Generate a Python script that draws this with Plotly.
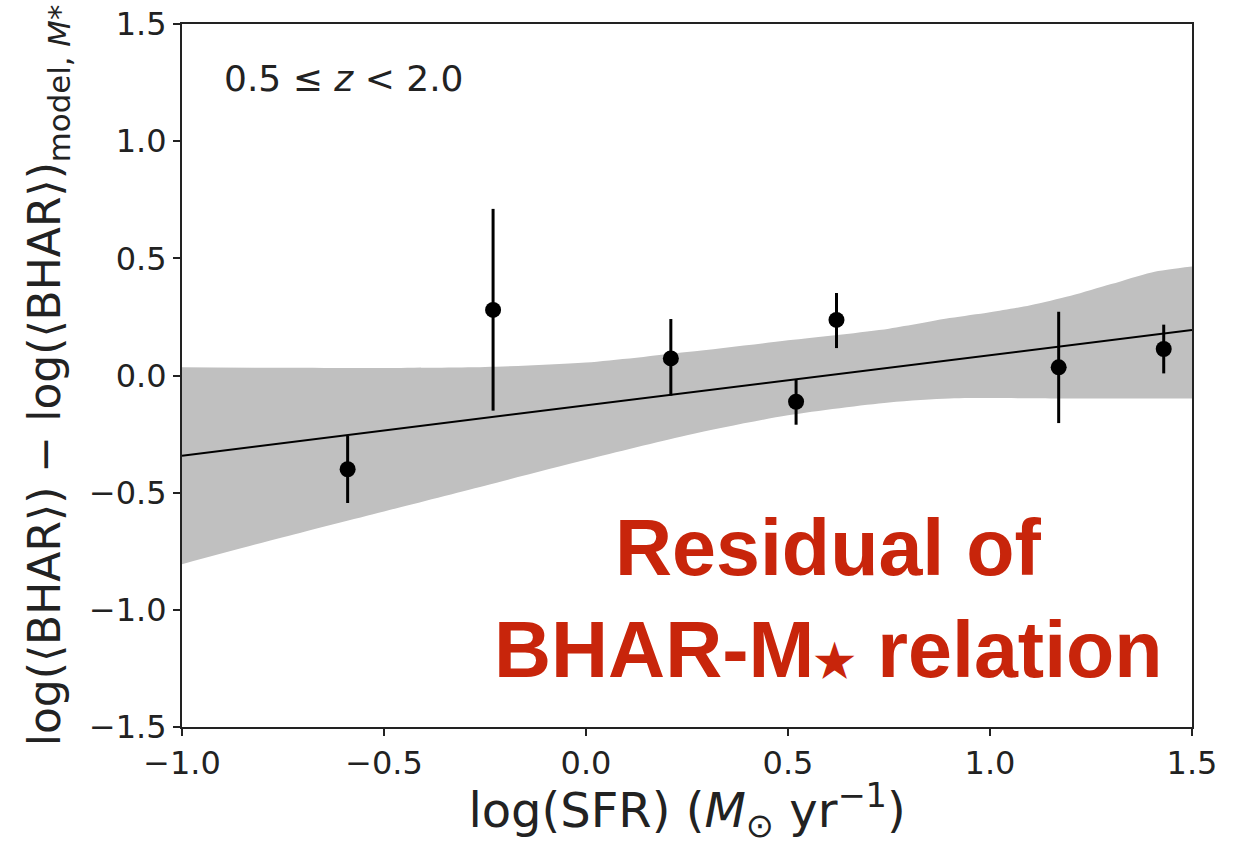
import plotly.graph_objects as go

# ---- data ----
pts_x = [-0.59, -0.23, 0.21, 0.52, 0.62, 1.17, 1.43]
pts_y = [-0.40, 0.28, 0.073, -0.112, 0.237, 0.035, 0.113]
err_plus = [0.142, 0.431, 0.168, 0.097, 0.115, 0.237, 0.104]
err_minus = [0.144, 0.430, 0.159, 0.098, 0.120, 0.238, 0.104]

fit_x = [-1.0, 1.5]
fit_y = [-0.342, 0.194]

band_x = [-1.0, -0.75, -0.5, -0.25, 0.0, 0.25, 0.5, 0.75, 0.9, 1.0, 1.1, 1.2, 1.3, 1.4, 1.5]
band_upper = [0.035, 0.033, 0.032, 0.036, 0.055, 0.10, 0.15, 0.20, 0.245, 0.27, 0.30, 0.34, 0.39, 0.44, 0.465]
band_lower = [-0.805, -0.69, -0.58, -0.47, -0.36, -0.255, -0.17, -0.115, -0.098, -0.096, -0.097, -0.098, -0.098, -0.098, -0.098]

x_ticks = [-1.0, -0.5, 0.0, 0.5, 1.0, 1.5]
x_ticklabels = ["\u22121.0", "\u22120.5", "0.0", "0.5", "1.0", "1.5"]
y_ticks = [-1.5, -1.0, -0.5, 0.0, 0.5, 1.0, 1.5]
y_ticklabels = ["\u22121.5", "\u22121.0", "\u22120.5", "0.0", "0.5", "1.0", "1.5"]

FONT = "DejaVu Sans"
INK = "#222222"

fig = go.Figure()

fig.add_trace(go.Scatter(x=band_x, y=band_upper, mode="lines",
                         line=dict(width=0, color="#c0c0c0", shape="spline", smoothing=0.8),
                         hoverinfo="skip", showlegend=False))
fig.add_trace(go.Scatter(x=band_x, y=band_lower, mode="lines",
                         line=dict(width=0, color="#c0c0c0", shape="spline", smoothing=0.8),
                         fill="tonexty", fillcolor="#c0c0c0",
                         hoverinfo="skip", showlegend=False))

fig.add_trace(go.Scatter(x=fit_x, y=fit_y, mode="lines",
                         line=dict(width=2, color="black"),
                         hoverinfo="skip", showlegend=False))

fig.add_trace(go.Scatter(x=pts_x, y=pts_y, mode="markers",
                         marker=dict(size=16, color="black"),
                         error_y=dict(type="data", symmetric=False,
                                      array=err_plus, arrayminus=err_minus,
                                      color="black", thickness=3, width=0),
                         showlegend=False))

axis_common = dict(showline=True, linecolor=INK, linewidth=2, mirror=True,
                   ticks="outside", ticklen=7, tickwidth=1.5, tickcolor=INK,
                   showgrid=False, zeroline=False, automargin=False,
                   tickfont=dict(family=FONT, size=32, color=INK))

fig.update_xaxes(range=[-1.0, 1.5], tickvals=x_ticks, ticktext=x_ticklabels,
                 title=dict(text="log(SFR) (<i>M</i><sub>\u2299</sub> yr<sup>\u22121</sup>)",
                            font=dict(family=FONT, size=48, color=INK), standoff=20),
                 **axis_common)
fig.update_yaxes(range=[-1.5, 1.5], tickvals=y_ticks, ticktext=y_ticklabels,
                 title=dict(text="log(\u27e8BHAR\u27e9) \u2212 log(\u27e8BHAR\u27e9)<sub>model, <i>M</i>*</sub>",
                            font=dict(family=FONT, size=44, color=INK), standoff=14),
                 **axis_common)

fig.add_annotation(x=0.0396, y=0.923, xref="paper", yref="paper",
                   xanchor="left", yanchor="middle", showarrow=False,
                   text="0.5 \u2264 <i>z</i> &lt; 2.0",
                   font=dict(family=FONT, size=36, color=INK))

red = "#C8250B"
fig.add_annotation(x=0.64, y=0.256, xref="paper", yref="paper",
                   xanchor="center", yanchor="middle", showarrow=False,
                   text="<b>Residual of</b>",
                   font=dict(family="Liberation Sans", size=79, color=red))
fig.add_annotation(x=0.64, y=0.110, xref="paper", yref="paper",
                   xanchor="center", yanchor="middle", showarrow=False,
                   text="<b>BHAR-M<span style='font-size:46px'>\u2605</span> relation</b>",
                   font=dict(family="Liberation Sans", size=79, color=red))

fig.update_layout(width=1247, height=845,
                  margin=dict(l=182, r=55, t=24, b=118, pad=0),
                  plot_bgcolor="white", paper_bgcolor="white")

fig.write_html("out.html")
